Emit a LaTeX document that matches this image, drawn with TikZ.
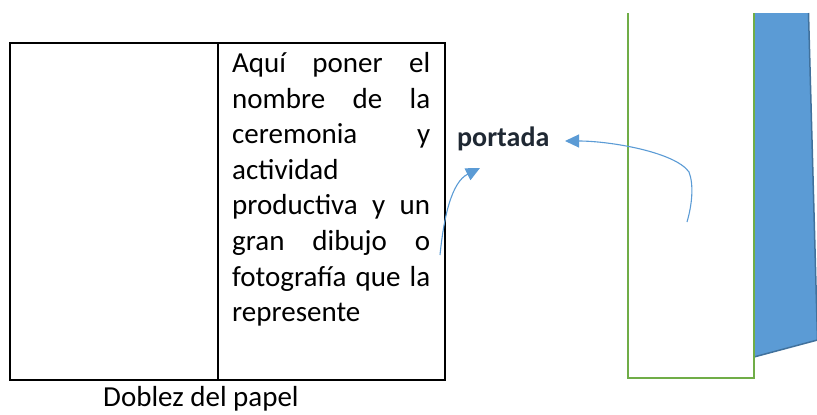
\documentclass[tikz,border=0pt]{standalone}
\usepackage{fontspec}
\setmainfont{Carlito}
\usetikzlibrary{arrows.meta}
\definecolor{tblue}{HTML}{5B9BD5}
\definecolor{tbluedark}{HTML}{41719C}
\definecolor{tgreen}{HTML}{70AD47}
\definecolor{tdark}{HTML}{1F2833}
\tikzset{
  line/.style={anchor=base west, inner sep=0pt, font=\fontsize{29}{35}\selectfont},
  curvearrow/.style={draw=tblue, line width=1.1pt, -{Triangle[length=14pt,width=13pt]}}
}
\begin{document}
\begin{tikzpicture}[x=1pt,y=-1pt]
\useasboundingbox (0,0) rectangle (817,415);
% table
\draw[line width=2pt] (10,42.5) rectangle (445,380);
\draw[line width=2pt] (217.5,42.5) -- (217.5,380);
% text lines
\node[line] (l1) at (232,72.5) {\makebox[198pt][s]{Aquí poner el}};
\node[line] (l2) at (232,108.1) {\makebox[198pt][s]{nombre de la}};
\node[line] (l3) at (232,143.7) {\makebox[198pt][s]{ceremonia y}};
\node[line] (l4) at (232,179.3) {actividad};
\node[line] (l5) at (232,214.9) {\makebox[198pt][s]{productiva y un}};
\node[line] (l6) at (232,250.5) {\makebox[198pt][s]{gran dibujo o}};
\node[line] (l7) at (232,286.1) {\makebox[198pt][s]{fotografía que la}};
\node[line] (l8) at (232,321.7) {represente};
\node[line] (doblez) at (103,406) {Doblez del papel};
\node[line, text=tdark, font=\fontsize{28}{34}\selectfont\bfseries] (portada) at (457,146) {portada};
% blue shape
\fill[tblue] (754,13) -- (808.5,13) -- (817.5,340) -- (754,357) -- cycle;
\draw[tbluedark, line width=1.5pt] (808.5,13) -- (817.5,340) -- (754,357);
% green box
\draw[tgreen, line width=2pt] (628,13) -- (628,378) -- (754,378) -- (754,13);
% arrows
\coordinate (a1s) at (687,222);
\coordinate (a1m) at (689,172);
\coordinate (a1e) at (565,141);
\coordinate (a2s) at (440,255);
\coordinate (a2e) at (480,168);
\draw[curvearrow] (a1s) .. controls (692,205) and (694,185) .. (a1m) .. controls (675,152) and (610,141) .. (a1e);
\draw[curvearrow] (a2s) .. controls (444,215) and (452,182) .. (a2e);
\end{tikzpicture}
\end{document}
